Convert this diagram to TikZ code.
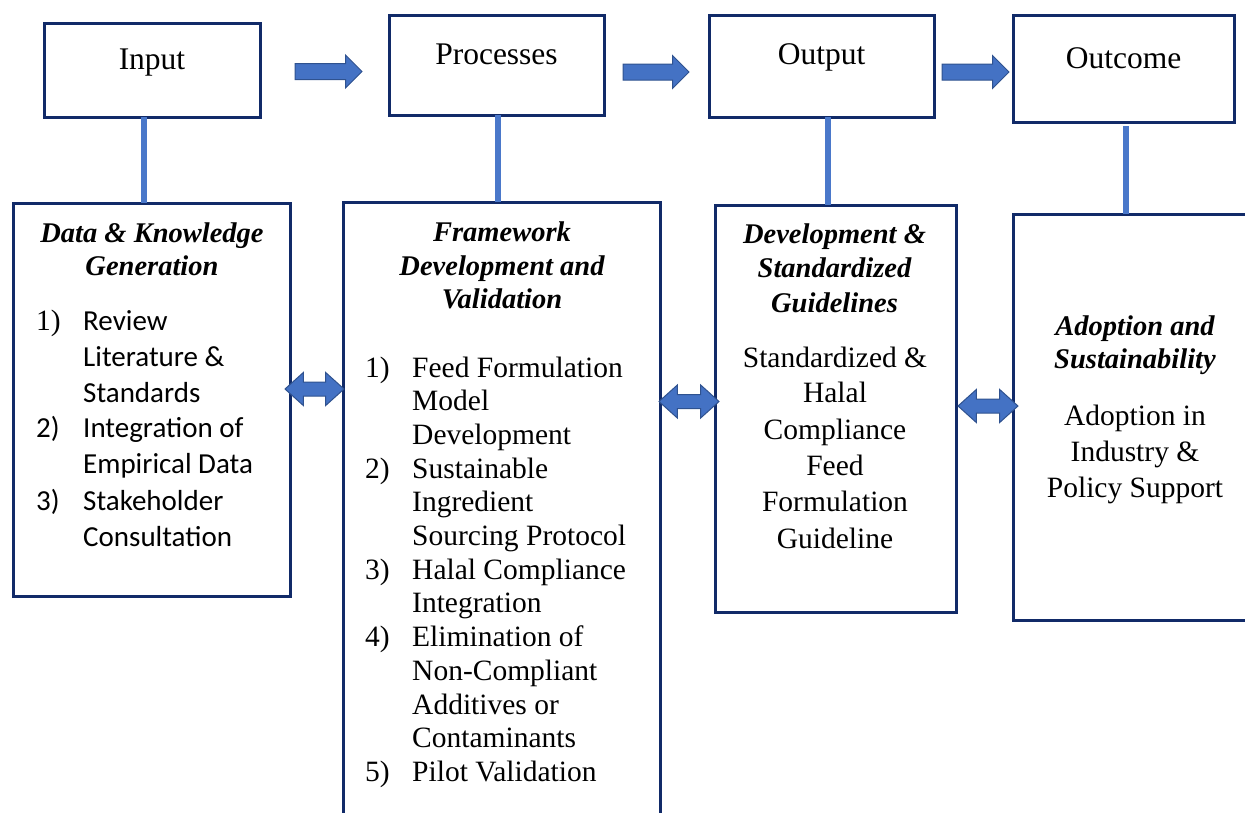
\documentclass[tikz,border=0pt]{standalone}
\usepackage{fontspec}
\setmainfont{Liberation Serif}
\newfontfamily\calfont{Carlito}
\usetikzlibrary{shapes.arrows,calc}
\definecolor{navy}{HTML}{112A68}
\definecolor{ablue}{HTML}{4472C4}
\definecolor{aedge}{HTML}{2F528F}
\definecolor{lblue}{HTML}{4A78CA}
\begin{document}
\begin{tikzpicture}[x=1pt,y=-1pt,
  box/.style={draw=navy, line width=3pt, inner sep=0pt, outer sep=0pt},
  ttl/.style={font=\fontsize{31.5}{36}\selectfont, inner sep=0pt, anchor=base},
  hd/.style={font=\fontsize{28.5}{33}\selectfont\bfseries\itshape, inner sep=0pt, anchor=base},
  bd/.style={font=\fontsize{29.5}{34}\selectfont, inner sep=0pt, anchor=base},
  bdl/.style={bd, anchor=base west},
  cb/.style={font=\fontsize{29}{34}\selectfont\calfont, inner sep=0pt, anchor=base west},
  conn/.style={draw=lblue, line width=5.5pt},
  rarrow/.style={single arrow, draw=aedge, fill=ablue, line width=1pt,
    inner xsep=0pt, inner ysep=7.5pt, single arrow head extend=8.5pt,
    single arrow tip angle=90, outer sep=0pt},
  darrow/.style={double arrow, draw=aedge, fill=ablue, line width=1pt,
    inner xsep=0pt, inner ysep=6.5pt, double arrow head extend=9.5pt,
    double arrow tip angle=84, outer sep=0pt}
]
\useasboundingbox (0,0) rectangle (1245,812);

% top boxes
\node[box, minimum width=216pt, minimum height=94pt] (in) at (152,70) {};
\node[box, minimum width=215pt, minimum height=100pt] (pr) at (496.5,65) {};
\node[box, minimum width=225pt, minimum height=102pt] (ou) at (821.5,66) {};
\node[box, minimum width=221pt, minimum height=107pt] (oc) at (1123.5,68.5) {};

% lower boxes
\node[box, minimum width=277pt, minimum height=393pt] (dk) at (151.5,399.5) {};
\node[box, minimum width=317pt, minimum height=628pt] (fw) at (501.5,516) {};
\node[box, minimum width=241pt, minimum height=407pt] (dv) at (835.5,408.5) {};
\node[box, minimum width=247pt, minimum height=406pt] (ad) at (1136.5,417) {};

% connectors
\coordinate (c1) at (144,0);
\coordinate (c2) at (498,0);
\coordinate (c3) at (828,0);
\coordinate (c4) at (1126,0);
\draw[conn] (in.south -| c1) -- (dk.north -| c1);
\draw[conn] (pr.south -| c2) -- (fw.north -| c2);
\draw[conn] (ou.south -| c3) -- (dv.north -| c3);
\draw[conn] ($(oc.south -| c4)+(0,4)$) -- (ad.north -| c4);

% block arrows
\node[rarrow, minimum height=67pt] (a1) at (324.5,71.5) {};
\node[rarrow, minimum height=66pt] (a2) at (652,72) {};
\node[rarrow, minimum height=67pt] (a3) at (971.5,72) {};
\node[darrow, minimum height=59pt] (d1) at (314.5,389) {};
\node[darrow, minimum height=60pt] (d2) at (689,401.5) {};
\node[darrow, minimum height=60pt] (d3) at (988,406) {};

% titles
\node[ttl] (tin) at (152,69) {Input};
\node[ttl] (tpr) at (496.5,64) {Processes};
\node[ttl] (tou) at (821.5,64) {Output};
\node[ttl] (toc) at (1123.5,68) {Outcome};

% data & knowledge
\node[hd] (dkh1) at (152,242) {Data \& Knowledge};
\node[hd] (dkh2) at (152,275) {Generation};
\node[bdl] (dkn1) at (36,330) {1)};
\node[cb] (dkl1) at (83,330) {Review};
\node[cb] (dkl2) at (83,366) {Literature \&};
\node[cb] (dkl3) at (83,402) {Standards};
\node[cb] (dkn2) at (36,437) {2)};
\node[cb] (dkl4) at (83,437) {Integration of};
\node[cb] (dkl5) at (83,473) {Empirical Data};
\node[cb] (dkn3) at (36,510) {3)};
\node[cb] (dkl6) at (83,510) {Stakeholder};
\node[cb] (dkl7) at (83,546) {Consultation};

% framework
\node[hd] (fwh1) at (502,241) {Framework};
\node[hd] (fwh2) at (502,275) {Development and};
\node[hd] (fwh3) at (502,308) {Validation};
\foreach \t [count=\i] in {Feed Formulation, Model, Development, Sustainable, Ingredient, Sourcing Protocol, Halal Compliance, Integration, Elimination of, Non-Compliant, Additives or, Contaminants, Pilot Validation}
  \node[bdl] (fwl\i) at (412,{377+33.7*(\i-1)}) {\t};
\node[bdl] (fwn1) at (365,377) {1)};
\node[bdl] (fwn2) at (365,478.1) {2)};
\node[bdl] (fwn3) at (365,579.2) {3)};
\node[bdl] (fwn4) at (365,646.6) {4)};
\node[bdl] (fwn5) at (365,781.4) {5)};

% development
\node[hd] (dvh1) at (834.5,243) {Development \&};
\node[hd] (dvh2) at (834.5,277) {Standardized};
\node[hd] (dvh3) at (834.5,312) {Guidelines};
\node[bd] (dvl1) at (835,367) {Standardized \&};
\node[bd] (dvl2) at (835,402) {Halal};
\node[bd] (dvl3) at (835,439) {Compliance};
\node[bd] (dvl4) at (835,475) {Feed};
\node[bd] (dvl5) at (835,511) {Formulation};
\node[bd] (dvl6) at (835,548) {Guideline};

% adoption
\node[hd] (adh1) at (1135,335) {Adoption and};
\node[hd] (adh2) at (1135,368) {Sustainability};
\node[bd] (adl1) at (1135,425) {Adoption in};
\node[bd] (adl2) at (1135,461) {Industry \&};
\node[bd] (adl3) at (1135,497) {Policy Support};
\end{tikzpicture}
\end{document}
